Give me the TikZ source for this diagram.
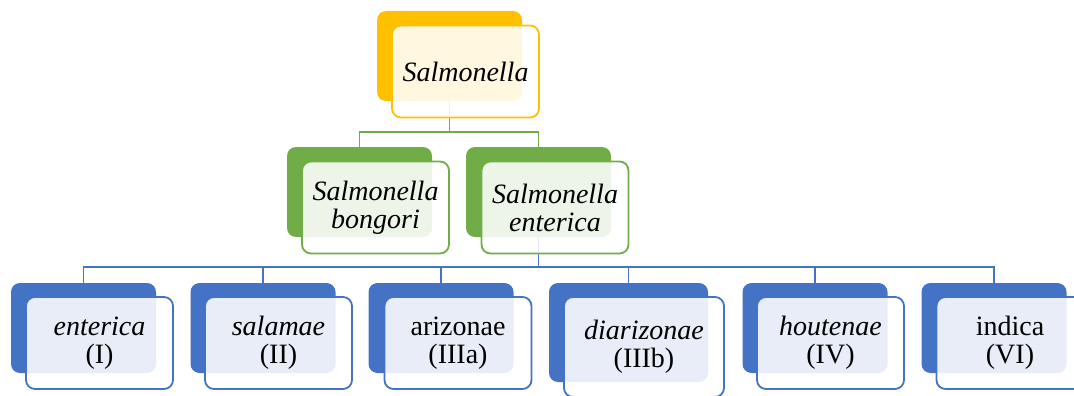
\documentclass[tikz,border=0pt]{standalone}
\usepackage{fontspec}
\setmainfont{Liberation Serif}
\usetikzlibrary{backgrounds}
\definecolor{cOr}{HTML}{FFC000}
\definecolor{cGr}{HTML}{70AD47}
\definecolor{cBl}{HTML}{4472C4}
\tikzset{
 backbox/.style={rounded corners=9pt, fill=#1, draw=none, minimum width=145pt, minimum height=90pt, inner sep=0pt},
 frontbox/.style={rounded corners=9pt, draw=#1, line width=1.8pt, fill=white, fill opacity=0.88, text opacity=1, minimum width=147pt, minimum height=92pt, inner sep=0pt, align=center, font=\fontsize{28}{28}\selectfont},
 conn/.style={draw=#1, line width=1.8pt},
}
\begin{document}
\begin{tikzpicture}[x=1pt,y=-1pt]
\useasboundingbox (0,0) rectangle (1074,396);
\coordinate (busT) at (0,132);
\coordinate (busB) at (0,267);
% top
\node[backbox=cOr] (salB) at (449.5,56) {};
\node[frontbox=cOr] (salF) at (465.5,71.5) {\textit{Salmonella}};
% middle
\node[backbox=cGr] (bonB) at (359.5,192) {};
\node[frontbox=cGr] (bonF) at (375.5,207.5) {\textit{Salmonella}\\\textit{bongori}};
\node[backbox=cGr] (entB) at (538.5,192) {};
\node[frontbox=cGr] (entF) at (555,207.5) {\textit{Salmonella}\\\textit{enterica}};
% bottom
\node[backbox=cBl] (b1B) at (83.5,328) {};
\node[frontbox=cBl] (b1F) at (99.5,343) {\textit{enterica}\\(I)};
\node[backbox=cBl] (b2B) at (263,328) {};
\node[frontbox=cBl] (b2F) at (278.5,343) {\textit{salamae}\\(II)};
\node[backbox=cBl] (b3B) at (441,328) {};
\node[frontbox=cBl] (b3F) at (458,343) {arizonae\\(IIIa)};
\node[backbox=cBl, minimum width=159pt, minimum height=99pt] (b4B) at (628.5,332.5) {};
\node[frontbox=cBl, minimum width=160pt, minimum height=100pt] (b4F) at (644,347) {\textit{diarizonae}\\(IIIb)};
\node[backbox=cBl] (b5B) at (815,328) {};
\node[frontbox=cBl] (b5F) at (830.5,343) {\textit{houtenae}\\(IV)};
\node[backbox=cBl] (b6B) at (994,328) {};
\node[frontbox=cBl] (b6F) at (1010,343) {indica\\(VI)};
\begin{scope}[on background layer]
\draw[conn=cGr] (salB.center) -- (salB.center |- busT) -| (bonB.north);
\draw[conn=cGr] (salB.center) -- (salB.center |- busT) -| (entB.north);
\foreach \c in {b1B,b2B,b3B,b4B,b5B,b6B}
  \draw[conn=cBl] (entB.center) -- (entB.center |- busB) -| (\c.north);
\end{scope}
\end{tikzpicture}
\end{document}
